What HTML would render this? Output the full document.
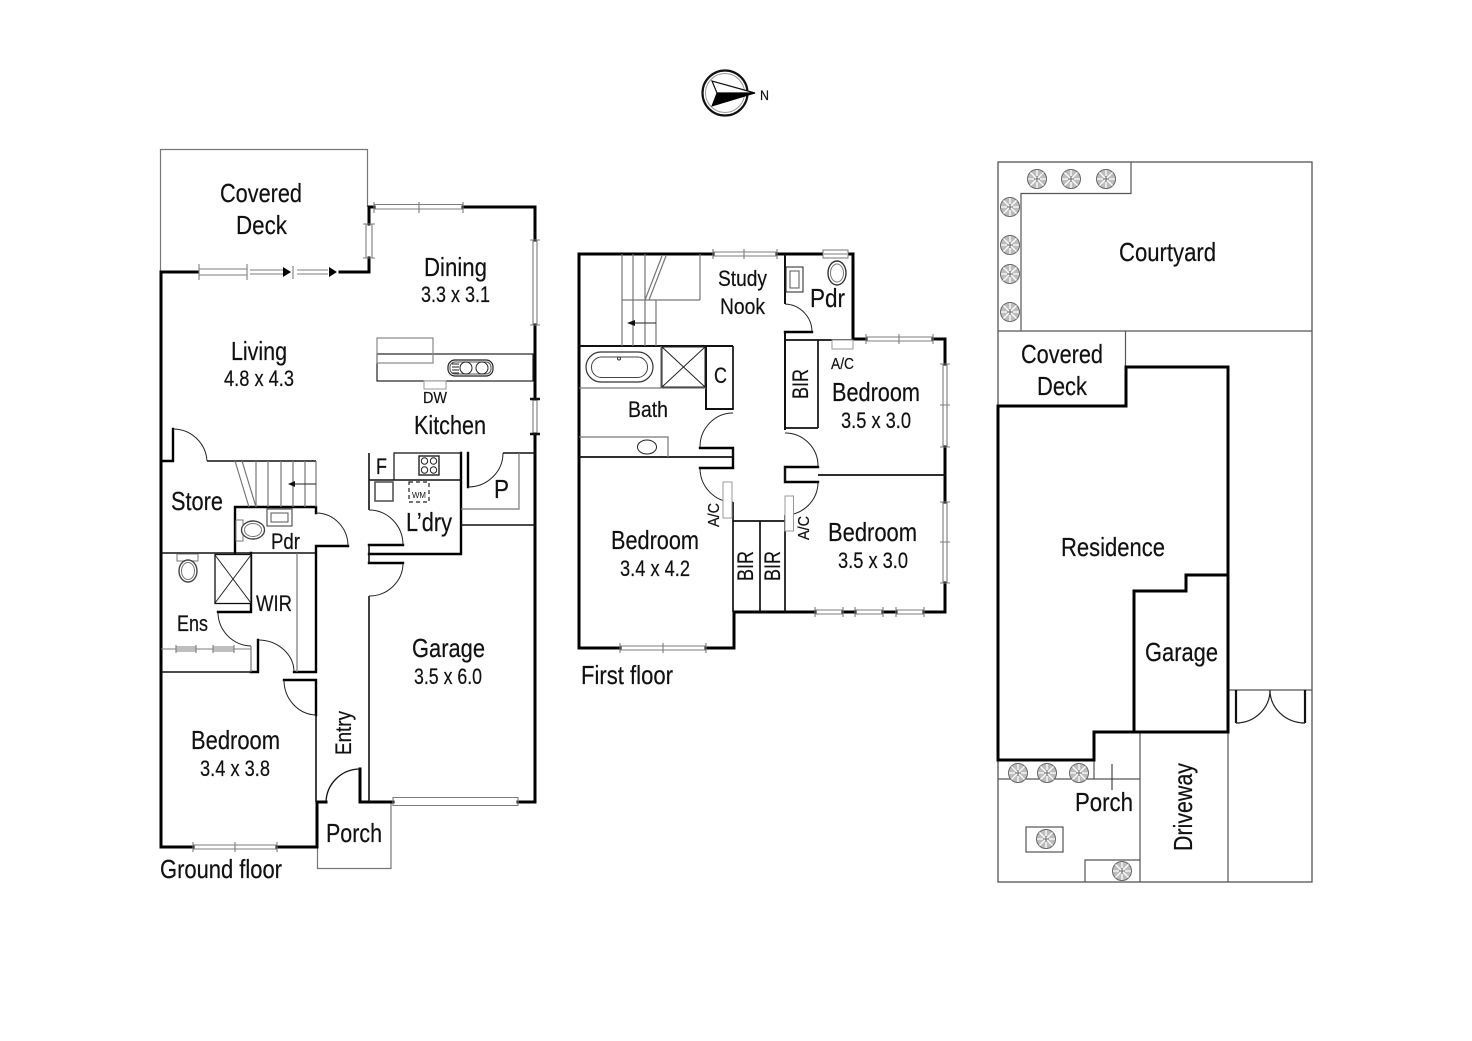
<!DOCTYPE html>
<html><head><meta charset="utf-8"><title>Floor plan</title>
<style>
html,body{margin:0;padding:0;background:#fff}
svg{display:block}
text{font-family:"Liberation Sans",Arial,sans-serif;fill:#111;stroke:#111;stroke-width:.2}
.w{fill:none;stroke:#000;stroke-width:3;stroke-linecap:square;stroke-linejoin:miter}
.i{fill:none;stroke:#000;stroke-width:2.400;stroke-linecap:square}
.m{fill:none;stroke:#111;stroke-width:1.600}
.t{fill:none;stroke:#222;stroke-width:1}
.g{fill:none;stroke:#777;stroke-width:1.200}
.win{fill:none;stroke:#7c7c7c;stroke-width:1.100}
.b{font-size:26px}.d{font-size:22px}.s{font-size:16px}
</style></head><body>
<svg xmlns="http://www.w3.org/2000/svg" width="1472" height="1041" viewBox="0 0 1472 1041">
<defs>
<g id="tree">
<circle r="9.500" fill="#bdbdbd" stroke="#666" stroke-width="1"/>
<path d="M0-9V9M-9 0H9M-6.500-6.500L6.500 6.500M-6.500 6.500L6.500-6.500" stroke="#fff" stroke-width="1.300"/>
<path d="M0-3V3M-3 0H3" stroke="#444" stroke-width="0.800"/>
</g>
</defs>

<!-- compass -->
<circle cx="725" cy="93" r="22.500" fill="#fff" stroke="#111" stroke-width="2.200"/>
<circle cx="725" cy="93" r="19.500" fill="#fff" stroke="#999" stroke-width="1"/>
<path d="M755 93L712 81L717 93Z" fill="#fff" stroke="#111" stroke-width="1.200"/>
<path d="M755 93L717 93L712 106Z" fill="#000" stroke="#000" stroke-width="1"/>
<text x="760" y="100" font-size="14" textLength="9" lengthAdjust="spacingAndGlyphs">N</text>

<!-- GROUND FLOOR -->
<path class="g" d="M160.500 271V149.500H367.500V207M317.500 802V868.500H391V802"/>
<path class="w" d="M161 272H198M161 272V847H193M277 847H317V802H326M340 272H369V258M369 224V207H374M463 207H535V240M535 325V399M535 434V802H518M393 802H360V769"/>
<path class="m" style="stroke-width:1.300" d="M326 802A34 34 0 0 1 360 769"/>
<!-- windows ground -->
<path class="win" d="M199 269H247M199 275H247M199 264V280M247 264V280M250 270H283M250 274H283M297 270H328M297 274H328M293 266V279
M366 224V258M372 224V258M363 224H375M363 258H375
M374 204.500H463M374 209H463M374 202V213M419 202V213M463 202V213
M533 240V325M537 240V325M530 240H540M530 325H540
M533 399V434M537 399V434
M193 845H277M193 849H277M193 842V852M235 842V852M277 842V852
M393 797.500H518V805.500H393Z"/>
<path d="M283 267L291 272L283 277Z" fill="#000"/><path d="M329 267L337 272L329 277Z" fill="#000"/>
<path class="m" style="stroke-width:2.400" d="M530 399H540M530 434H540"/>
<!-- interior ground -->
<path class="i" d="M161 461H173V429M235 553V507H316V513M348 546H316V672H294M251 553V612H218M258 672V640M258 672H251M284 680H316V715M369 563H403M369 545H403M461 453V554H369M468 453V487"/>
<path class="m" d="M207 461H316M161 553H316M161 672H251M316 715V802M369 802V596M369 563V545M369 510V453M369 480H461M461 525H535M503 453H535"/>
<path class="t" d="M173 429A34 34 0 0 1 207 461M316 513A32 33 0 0 1 348 546M218 612A34 34 0 0 0 251 646M258 640A36 32 0 0 1 294 672M284 680A33 35 0 0 0 316 715M369 596A34 33 0 0 0 403 563M403 545A34 35 0 0 0 369 510M468 487A35 34 0 0 0 503 453"/>
<path class="g" d="M297 553V672M251 646V672M519 453V509H461M235 461L249 507M242 461L256 507M256 461V507M268 461V507M281 461V507M293 461V507M305 461V507M316 461V507"/>
<path class="t" d="M316 484H292"/><path d="M288 484L295 481V487Z" fill="#111"/>
<path class="win" d="M161 649H251M176 645V653M196 645V653M213 645V653M234 645V653M176 647H196M176 651H196M213 647H234M213 651H234"/>
<rect x="215" y="554.500" width="36" height="49" fill="#fff" stroke="#111" stroke-width="1.300"/>
<path class="t" d="M215 555L251 603M251 555L215 603"/>
<!-- fixtures -->
<rect x="267" y="509" width="25" height="17" fill="#fff" stroke="#333"/><rect x="271" y="513" width="17" height="9" fill="#fff" stroke="#555"/>
<rect x="236" y="520" width="7" height="21" fill="#fff" stroke="#777"/>
<ellipse cx="253" cy="530" rx="11.500" ry="9" fill="#fff" stroke="#444" stroke-width="1.400"/><ellipse cx="253" cy="530" rx="8.500" ry="6.500" fill="none" stroke="#777"/>
<rect x="177" y="554" width="21" height="7" fill="#fff" stroke="#777"/>
<ellipse cx="188" cy="571" rx="9" ry="11" fill="#fff" stroke="#444" stroke-width="1.400"/><ellipse cx="188" cy="571" rx="6.500" ry="8.500" fill="none" stroke="#777"/>
<!-- kitchen -->
<rect x="377" y="354" width="156" height="27" fill="#fff" stroke="#222" stroke-width="1.200"/>
<rect x="377" y="338" width="56" height="25" fill="none" stroke="#888" stroke-width="1.200"/>
<rect x="424" y="381" width="22" height="8" fill="#fff" stroke="#999"/>
<rect x="448" y="360" width="45" height="16" rx="7" fill="#fff" stroke="#222" stroke-width="1.200"/>
<rect x="450" y="362" width="41" height="12" rx="5" fill="none" stroke="#555"/>
<circle cx="466" cy="368" r="6" fill="#fff" stroke="#222"/><circle cx="482" cy="368" r="6" fill="#fff" stroke="#222"/>
<path class="t" d="M452 364H459M452 367H459M452 370H459M452 373H459"/>
<path class="m" style="stroke-width:1.200" d="M394 480V453H461"/>
<rect x="419" y="456" width="20" height="19" fill="#fff" stroke="#222" stroke-width="1.400"/>
<circle cx="424.500" cy="461" r="3.200" class="t"/><circle cx="433.500" cy="461" r="3.200" class="t"/><circle cx="424.500" cy="470" r="3.200" class="t"/><circle cx="433.500" cy="470" r="3.200" class="t"/>
<rect x="375" y="482" width="18" height="19" fill="#fff" stroke="#555" stroke-width="1.600"/>
<rect x="409" y="482" width="20" height="20" fill="none" stroke="#222" stroke-width="1.200" stroke-dasharray="4 3"/>
<text x="412" y="498" font-size="8" style="stroke-width:0" textLength="14" lengthAdjust="spacingAndGlyphs">WM</text>

<text class="b" x="220" y="202" textLength="82" lengthAdjust="spacingAndGlyphs">Covered</text>
<text class="b" x="236" y="234" textLength="51" lengthAdjust="spacingAndGlyphs">Deck</text>
<text class="b" x="424" y="276" textLength="63" lengthAdjust="spacingAndGlyphs">Dining</text>
<text class="d" x="421" y="302" textLength="69" lengthAdjust="spacingAndGlyphs">3.3 x 3.1</text>
<text class="b" x="231" y="360" textLength="56" lengthAdjust="spacingAndGlyphs">Living</text>
<text class="d" x="224" y="386" textLength="70" lengthAdjust="spacingAndGlyphs">4.8 x 4.3</text>
<text class="s" x="423" y="403" textLength="24" lengthAdjust="spacingAndGlyphs">DW</text>
<text class="b" x="414" y="434" textLength="72" lengthAdjust="spacingAndGlyphs">Kitchen</text>
<text class="d" x="376" y="474" textLength="11" lengthAdjust="spacingAndGlyphs">F</text>
<text class="b" x="494" y="498" textLength="15" lengthAdjust="spacingAndGlyphs">P</text>
<text class="b" x="171" y="510" textLength="52" lengthAdjust="spacingAndGlyphs">Store</text>
<text class="d" x="271" y="549" textLength="29" lengthAdjust="spacingAndGlyphs">Pdr</text>
<text class="d" x="256" y="611" textLength="36" lengthAdjust="spacingAndGlyphs">WIR</text>
<text class="d" x="177" y="631" textLength="31" lengthAdjust="spacingAndGlyphs">Ens</text>
<text class="b" x="406" y="531" textLength="46" lengthAdjust="spacingAndGlyphs">L’dry</text>
<text class="b" x="412" y="657" textLength="73" lengthAdjust="spacingAndGlyphs">Garage</text>
<text class="d" x="414" y="684" textLength="68" lengthAdjust="spacingAndGlyphs">3.5 x 6.0</text>
<text class="d" transform="translate(351,755) rotate(-90)" textLength="44" lengthAdjust="spacingAndGlyphs">Entry</text>
<text class="b" x="191" y="749" textLength="89" lengthAdjust="spacingAndGlyphs">Bedroom</text>
<text class="d" x="200" y="776" textLength="70" lengthAdjust="spacingAndGlyphs">3.4 x 3.8</text>
<text class="b" x="326" y="842" textLength="56" lengthAdjust="spacingAndGlyphs">Porch</text>
<text class="b" x="160" y="878" textLength="122" lengthAdjust="spacingAndGlyphs">Ground floor</text>

<!-- FIRST FLOOR -->
<path class="w" d="M713 254H579V648H620M706 648H734V612H815M843 612H855M883 612H896M924 612H945V583M945 502V447M945 364V339H933M866 339H853V254H777"/>
<path class="win" d="M713 252H777M713 256H777M713 249V259M744 249V259M777 249V259
M866 337H933M866 341H933M866 334V344M899 334V344M933 334V344
M943 364V447M947 364V447M940 364H950M940 447H950M940 405H950
M943 502V583M947 502V583M940 502H950M940 583H950M940 542H950
M815 610H843M815 614H843M815 607V617M843 607V617M855 610H883M855 614H883M855 607V617M883 607V617M896 610H924M896 614H924M896 607V617M924 607V617
M620 646H706M620 650H706M620 643V653M663 643V653M706 643V653"/>
<path class="i" d="M812 332H785M818 467H785V482H818M700 448H733V468H700"/>
<path class="m" style="stroke-width:2" d="M785 254V304M785 332V430M785 467V482M579 346H733M706 346V409H733"/>
<path class="m" style="stroke-width:1.700" d="M785 340H853M785 428H818M818 340V428M579 457H733M733 346V410M733 448V457M733 502V612M785 515V612M733 521H785M760 521V612M818 475H945"/>
<path class="t" d="M785 304A28 28 0 0 1 812 332M785 433A33 33 0 0 1 818 467M818 482A33 33 0 0 1 785 515M733 413A33 34 0 0 0 700 447M700 468A33 34 0 0 0 733 502"/>
<path class="g" d="M579 388H706M661 346V388M579 437H668V457M622 254V346M633 254V346M645 254V346M656 300V346M622 300H700M700 254V300M662 256L645 300M666 256L649 300"/>
<path class="t" d="M656 323H632"/><path d="M627 323L635 320V326Z" fill="#111"/>
<rect x="662" y="347" width="43" height="40" fill="#fff" stroke="#222"/><path class="t" d="M662 347L705 387M705 347L662 387"/>
<rect x="586" y="352" width="67" height="30" rx="15" fill="#fff" stroke="#333" stroke-width="1.200"/>
<rect x="591.500" y="357" width="56" height="20.500" rx="10" fill="none" stroke="#444"/>
<circle cx="619" cy="358.500" r="1.500" fill="#fff" stroke="#333"/>
<ellipse cx="647" cy="447" rx="9.500" ry="7" fill="#fff" stroke="#222"/>
<rect x="786" y="267" width="17" height="25" fill="#fff" stroke="#222"/><rect x="790" y="271" width="9" height="17" fill="none" stroke="#555"/>
<rect x="823" y="250" width="25" height="8" fill="#fff" stroke="#777"/><path class="win" d="M824 254H847"/>
<ellipse cx="837" cy="273" rx="9" ry="12" fill="#fff" stroke="#333" stroke-width="1.400"/><ellipse cx="837" cy="273" rx="6.500" ry="9" fill="none" stroke="#777"/>
<rect x="832" y="340" width="21" height="9" fill="#fff" stroke="#999"/>
<rect x="723" y="482" width="9" height="36" fill="#fff" stroke="#999"/>
<rect x="785" y="496" width="8.500" height="35" fill="#fff" stroke="#999"/>

<text class="d" x="718" y="286" textLength="49" lengthAdjust="spacingAndGlyphs">Study</text>
<text class="d" x="720" y="314" textLength="45" lengthAdjust="spacingAndGlyphs">Nook</text>
<text class="b" x="810" y="307" textLength="35" lengthAdjust="spacingAndGlyphs">Pdr</text>
<text class="s" x="831" y="369" textLength="23" lengthAdjust="spacingAndGlyphs">A/C</text>
<text class="b" x="832" y="401" textLength="88" lengthAdjust="spacingAndGlyphs">Bedroom</text>
<text class="d" x="841" y="428" textLength="70" lengthAdjust="spacingAndGlyphs">3.5 x 3.0</text>
<text class="d" transform="translate(808,399) rotate(-90)" textLength="30" lengthAdjust="spacingAndGlyphs">BIR</text>
<text class="d" x="714" y="383" textLength="13" lengthAdjust="spacingAndGlyphs">C</text>
<text class="d" x="628" y="417" textLength="40" lengthAdjust="spacingAndGlyphs">Bath</text>
<text class="b" x="611" y="549" textLength="88" lengthAdjust="spacingAndGlyphs">Bedroom</text>
<text class="d" x="620" y="576" textLength="70" lengthAdjust="spacingAndGlyphs">3.4 x 4.2</text>
<text class="s" transform="translate(719,527) rotate(-90)" textLength="24" lengthAdjust="spacingAndGlyphs">A/C</text>
<text class="d" transform="translate(753,581) rotate(-90)" textLength="30" lengthAdjust="spacingAndGlyphs">BIR</text>
<text class="d" transform="translate(780,581) rotate(-90)" textLength="30" lengthAdjust="spacingAndGlyphs">BIR</text>
<text class="s" transform="translate(809,540) rotate(-90)" textLength="24" lengthAdjust="spacingAndGlyphs">A/C</text>
<text class="b" x="828" y="541" textLength="89" lengthAdjust="spacingAndGlyphs">Bedroom</text>
<text class="d" x="838" y="568" textLength="70" lengthAdjust="spacingAndGlyphs">3.5 x 3.0</text>
<text class="b" x="581" y="684" textLength="92" lengthAdjust="spacingAndGlyphs">First floor</text>

<!-- SITE PLAN -->
<rect x="998" y="162" width="314" height="720" fill="none" stroke="#555" stroke-width="1.300"/>
<path class="g" style="stroke:#555" d="M998 331H1312M1021 331V193.500H1131V162M1125.500 331V367M1228 732V882M1140 732V882M998 779H1140M1094 760V779M1085 882V860H1140M1228 690H1312"/>
<path class="t" d="M1112 764V790"/>
<rect x="1026" y="827" width="37" height="25" fill="none" stroke="#444" stroke-width="1.100"/>
<path class="w" d="M998 406H1126V367H1228V732H1094V760H998ZM1134 732V591H1186V575H1228"/>
<path class="m" style="stroke-width:2.200" d="M1236 690V723M1305 690V723"/>
<path class="t" style="stroke-width:1.200" d="M1236 723A34 33 0 0 0 1270 690M1305 723A35 33 0 0 1 1270 690M1236 723H1240M1305 723H1301"/>
<use href="#tree" x="1037" y="179"/><use href="#tree" x="1071" y="179"/><use href="#tree" x="1106" y="179"/>
<use href="#tree" x="1010" y="207"/><use href="#tree" x="1010" y="245"/><use href="#tree" x="1010" y="274"/><use href="#tree" x="1010" y="312"/>
<use href="#tree" x="1018" y="773"/><use href="#tree" x="1047" y="773"/><use href="#tree" x="1079" y="773"/>
<use href="#tree" x="1046" y="839"/><use href="#tree" x="1122" y="871"/>

<text class="b" x="1119" y="261" textLength="97" lengthAdjust="spacingAndGlyphs">Courtyard</text>
<text class="b" x="1021" y="363" textLength="82" lengthAdjust="spacingAndGlyphs">Covered</text>
<text class="b" x="1037" y="395" textLength="50" lengthAdjust="spacingAndGlyphs">Deck</text>
<text class="b" x="1061" y="556" textLength="104" lengthAdjust="spacingAndGlyphs">Residence</text>
<text class="b" x="1145" y="661" textLength="73" lengthAdjust="spacingAndGlyphs">Garage</text>
<text class="b" x="1075" y="811" textLength="58" lengthAdjust="spacingAndGlyphs">Porch</text>
<text class="b" transform="translate(1192,851) rotate(-90)" textLength="88" lengthAdjust="spacingAndGlyphs">Driveway</text>
</svg>
</body></html>
